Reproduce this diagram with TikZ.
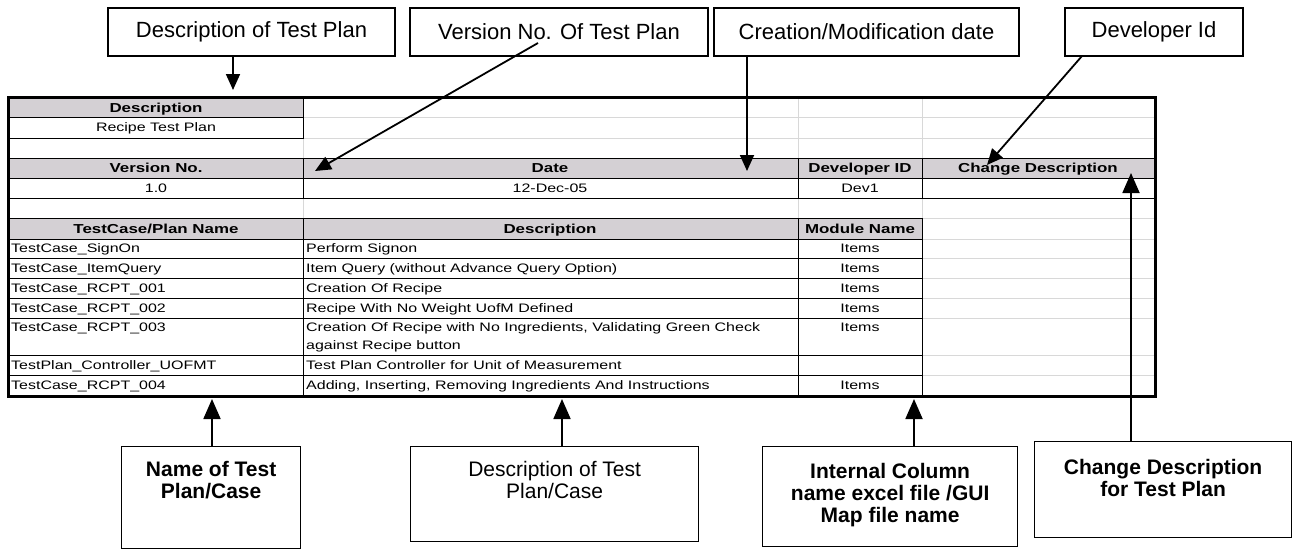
\documentclass[tikz,border=0pt]{standalone}
\usepackage{fontspec}
\setmainfont{Liberation Sans}
\newfontfamily\hdrfont[FakeStretch=1.3]{Liberation Sans Bold}
\newfontfamily\cellfont[FakeStretch=1.3]{Liberation Sans}
\usetikzlibrary{arrows.meta}
\definecolor{hdr}{RGB}{212,208,212}
\definecolor{gridc}{RGB}{216,216,216}
\begin{document}
\begin{tikzpicture}[x=1pt,y=-1pt,
  lbl/.style={draw, line width=1.3pt, inner sep=4pt, font=\fontsize{22}{24}\selectfont},
  blbl/.style={draw, line width=1.3pt, inner sep=0pt},
  cell/.style={font=\cellfont\fontsize{12.3}{14}\selectfont, inner sep=0pt, text height=8.8pt, text depth=0pt},
  hcell/.style={font=\hdrfont\fontsize{13}{15}\selectfont, inner sep=0pt, text height=9.3pt, text depth=0pt},
  dk/.style={draw=black, line width=1pt},
  lt/.style={draw=gridc, line width=1pt},
  arr/.style={line width=1.8pt, -{Triangle[length=16pt,width=14pt]}},
  barr/.style={line width=1.8pt, -{Triangle[length=20pt,width=17pt]}},
]
\useasboundingbox (0,0) rectangle (1293,549);
\fill[white] (0,0) rectangle (1293,549);

% ---------- light grid ----------
\foreach \y in {117,138,158,178,198,218,239,258,278,298,318,355,375}
  \draw[lt] (9,\y) -- (1155,\y);
\foreach \x in {303,798,922}
  \draw[lt] (\x,97) -- (\x,396);

% ---------- header fills ----------
\fill[hdr] (9,98) rectangle (303,117);
\fill[hdr] (9,158) rectangle (1155,178);
\fill[hdr] (9,218) rectangle (922,239);

% ---------- dark cell borders ----------
\draw[dk] (9,98) rectangle (303,117);
\draw[dk] (9,117) rectangle (303,138);
\foreach \ya/\yb in {158/178,178/198}{
  \draw[dk] (9,\ya) rectangle (303,\yb);
  \draw[dk] (303,\ya) rectangle (798,\yb);
  \draw[dk] (798,\ya) rectangle (922,\yb);
  \draw[dk] (922,\ya) rectangle (1155,\yb);
}
\foreach \ya/\yb in {218/239,239/258,258/278,278/298,298/318,318/355,355/375,375/395}{
  \draw[dk] (9,\ya) rectangle (303,\yb);
  \draw[dk] (303,\ya) rectangle (798,\yb);
  \draw[dk] (798,\ya) rectangle (922,\yb);
}
% outer border
\draw[line width=3pt] (8.5,97) rectangle (1155,396);

% ---------- table texts ----------
\node[hcell] (hdesc) at (156,107.5) {Description};
\node[cell] (vdesc) at (156,127.5) {Recipe Test Plan};
\node[hcell] (hver) at (156,168) {Version No.};
\node[hcell] (hdate) at (550,168) {Date};
\node[hcell] (hdev) at (860,168) {Developer ID};
\node[hcell] (hchg) at (1038,168) {Change Description};
\node[cell] (vver) at (156,188) {1.0};
\node[cell] (vdate) at (550,188) {12-Dec-05};
\node[cell] (vdev) at (860,188) {Dev1};
\node[hcell] (hname) at (156,228.5) {TestCase/Plan Name};
\node[hcell] (hdsc2) at (550,228.5) {Description};
\node[hcell] (hmod) at (860,228.5) {Module Name};

\node[cell, anchor=west] (n1) at (11,248.5) {TestCase\_SignOn};
\node[cell, anchor=west] (d1) at (306,248.5) {Perform Signon};
\node[cell] (m1) at (860,248.5) {Items};
\node[cell, anchor=west] (n2) at (11,268) {TestCase\_ItemQuery};
\node[cell, anchor=west] (d2) at (306,268) {Item Query (without Advance Query Option)};
\node[cell] (m2) at (860,268) {Items};
\node[cell, anchor=west] (n3) at (11,288) {TestCase\_RCPT\_001};
\node[cell, anchor=west] (d3) at (306,288) {Creation Of Recipe};
\node[cell] (m3) at (860,288) {Items};
\node[cell, anchor=west] (n4) at (11,308) {TestCase\_RCPT\_002};
\node[cell, anchor=west] (d4) at (306,308) {Recipe With No Weight UofM Defined};
\node[cell] (m4) at (860,308) {Items};
\node[cell, anchor=west] (n5) at (11,327.5) {TestCase\_RCPT\_003};
\node[cell, anchor=west] (d5a) at (306,327.5) {Creation Of Recipe with No Ingredients, Validating Green Check};
\node[cell, anchor=west] (d5b) at (306,345.5) {against Recipe button};
\node[cell] (m5) at (860,327.5) {Items};
\node[cell, anchor=west] (n6) at (11,365) {TestPlan\_Controller\_UOFMT};
\node[cell, anchor=west] (d6) at (306,365) {Test Plan Controller for Unit of Measurement};
\node[cell, anchor=west] (n7) at (11,385) {TestCase\_RCPT\_004};
\node[cell, anchor=west] (d7) at (306,385) {Adding, Inserting, Removing Ingredients And Instructions};
\node[cell] (m7) at (860,385) {Items};

% ---------- top callouts ----------
\node[lbl, minimum width=287pt, minimum height=48pt] (b1) at (251.5,32) {Description of Test Plan};
\node[lbl, minimum width=298pt, minimum height=48pt] (b2) at (559,32) {Version No. Of Test Plan};
\node[lbl, minimum width=305pt, minimum height=48pt] (b3) at (866.5,32) {Creation/Modification date};
\node[lbl, minimum width=178pt, minimum height=48pt] (b4) at (1154,32) {Developer Id};

\coordinate (t1) at (233,90);
\coordinate (s2) at (538,43);
\coordinate (t2) at (315,171);
\coordinate (t3) at (747,171);
\coordinate (s4) at (1082,56);
\coordinate (t4) at (987,165);

\draw[arr] (b1.south -| t1) -- (t1);
\draw[arr] (s2) -- (t2);
\draw[arr] (b3.south -| t3) -- (t3);
\draw[arr] (s4) -- (t4);

% ---------- bottom callouts ----------
\node[blbl, anchor=north west] (B1) at (121,446)
  {\parbox[c][102pt][t]{179pt}{\centering\bfseries\fontsize{21}{22}\selectfont\rule{0pt}{29.5pt}Name of Test\\Plan/Case}};
\node[blbl, anchor=north west] (B2) at (410,446)
  {\parbox[c][95pt][t]{288pt}{\centering\fontsize{21}{22}\selectfont\rule{0pt}{29.5pt}Description of Test\\Plan/Case}};
\node[blbl, anchor=north west] (B3) at (762,446)
  {\parbox[c][100pt][t]{255pt}{\centering\bfseries\fontsize{21}{22}\selectfont\rule{0pt}{31.5pt}Internal Column\\name excel file /GUI\\Map file name}};
\node[blbl, anchor=north west] (B4) at (1034,441)
  {\parbox[c][96pt][t]{257pt}{\centering\bfseries\fontsize{21}{22}\selectfont\rule{0pt}{32.5pt}Change Description\\for Test Plan}};

\coordinate (t6) at (212,399);
\coordinate (t7) at (562,399);
\coordinate (t8) at (914,399);
\coordinate (t5) at (1131,173);

\draw[barr] (B1.north -| t6) -- (t6);
\draw[barr] (B2.north -| t7) -- (t7);
\draw[barr] (B3.north -| t8) -- (t8);
\draw[barr] (B4.north -| t5) -- (t5);
\end{tikzpicture}
\end{document}
